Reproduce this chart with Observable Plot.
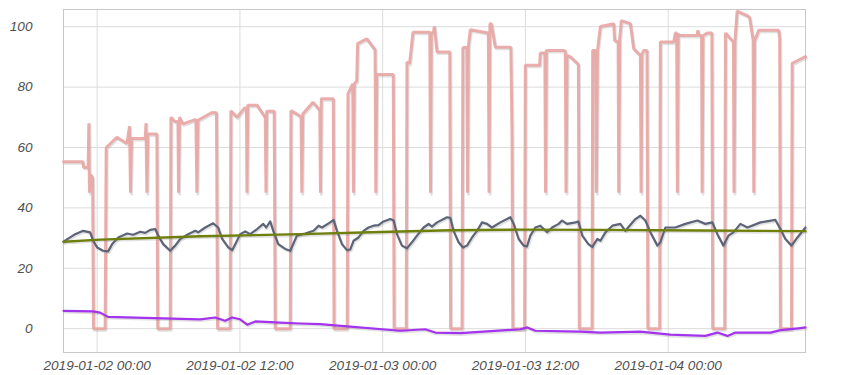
<!DOCTYPE html>
<html><head><meta charset="utf-8">
<script src="https://cdn.jsdelivr.net/npm/d3@7"></script>
<script src="https://cdn.jsdelivr.net/npm/@observablehq/plot@0.6"></script>
<style>html,body{margin:0;padding:0;background:#fff}</style>
</head><body><div id="chart"></div>
<script>
// time in hours since 2019-01-02 00:00 (UTC)
const baseTime = "2019-01-02 00:00";
const xTickLabels = ["2019-01-02 00:00","2019-01-02 12:00","2019-01-03 00:00","2019-01-03 12:00","2019-01-04 00:00"];
const yTicks = [0, 20, 40, 60, 80, 100];
const xRangeHours = [-2.83, 59.54];
const yRange = [-7.9, 105.7];

const pinkHours = [-2.83,-1.20,-1.14,-0.76,-0.70,-0.65,-0.55,-0.38,-0.31,0.67,
  0.76,1.66,2.50,2.72,2.80,2.89,4.04,4.10,4.18,4.26,
  5.02,5.09,6.14,6.20,6.50,6.79,6.84,6.92,7.21,8.30,
  8.38,8.47,9.65,10.03,10.12,11.18,11.24,11.75,12.39,12.55,
  12.59,12.66,13.43,14.13,14.19,14.25,14.88,14.97,16.23,16.29,
  16.99,17.14,17.20,17.28,18.14,18.61,18.71,18.77,18.84,19.85,
  19.91,21.02,21.08,21.48,21.54,21.61,21.82,21.89,22.68,23.29,
  23.36,23.42,23.50,24.89,24.96,25.98,26.04,26.26,26.55,27.96,
  28.02,28.09,28.26,28.34,28.57,29.64,29.71,30.67,30.74,31.07,
  31.13,31.20,31.37,32.88,32.94,33.01,33.13,33.47,34.77,34.87,
  34.94,35.93,35.99,37.19,37.25,37.63,37.69,37.76,39.21,39.35,
  39.41,39.50,39.78,40.45,40.53,41.60,41.65,41.90,41.96,42.05,
  42.30,43.42,43.50,43.79,43.84,43.92,44.06,44.82,45.10,45.66,
  45.72,45.79,45.94,46.22,46.29,47.28,47.34,48.46,48.60,48.71,
  48.77,48.84,49.02,50.43,50.48,50.58,50.80,50.85,50.92,51.27,
  51.67,51.74,52.75,52.81,53.48,53.53,53.61,53.79,54.63,54.85,
  55.14,55.19,55.26,55.61,57.29,57.37,57.43,58.36,58.42,59.54];
const pinkValues = [55.3,55.3,53.4,53.4,68,45,51,50,0,0,
  60,63.4,61.3,67,45,63,63,68,45,64.5,
  64.5,0,0,70,68.7,68.5,45,70,67.8,69.3,
  45,69,71.6,71.5,0,0,72.2,70,73.1,73,
  45,74,74,70,45,72,72,0,0,72.2,
  70.6,70,45,71.1,75,72.8,72.5,45,76.1,76.1,
  0,0,77.8,81.1,45,81,82,94.4,96,92.7,
  92.5,45,84.2,84.2,0,0,88.3,87.8,98.2,98.2,
  45,98,98,100.1,91.6,91.6,0,0,93,93.2,
  45,93.5,99,97.9,45,101,101,93.2,93.2,65,
  0,0,87.2,87.2,91.3,91.3,45,92.1,92.1,92,
  45,90.5,90,87.5,0,0,92.1,92.1,45,92,
  100.1,101,95.4,95,45,96,102,101,92.7,90.5,
  45,91,92.1,92.1,0,0,94.9,94.9,97.9,97.9,
  45,97.5,97.1,97.1,98.8,97.1,97.1,45,97,97.9,
  97.9,0,0,97.9,94.9,45,95,105.2,103.7,103,
  95.4,45,95.5,98.8,98.8,96,0,0,87.9,90.1];

const slateHours = [-2.83,-1.85,-1.18,-0.59,-0.34,0,0.50,0.92,1.26,1.77,
  2.52,3.03,3.62,4.04,4.46,4.88,5.13,5.55,6.14,6.56,
  6.98,7.65,8.24,8.49,9.08,9.75,10.17,10.51,11.02,11.35,
  11.69,12.02,12.45,12.87,13.45,13.96,14.21,14.55,14.80,15.22,
  15.81,16.23,16.79,17.49,18.19,18.61,18.90,19.59,19.87,20.16,
  20.58,21.00,21.27,21.55,21.97,22.39,22.81,23.23,23.65,24.07,
  24.64,24.92,25.20,25.62,26.04,26.46,26.88,27.44,27.86,28.14,
  28.57,29.41,29.68,29.96,30.38,30.75,31.09,31.51,31.93,32.35,
  32.77,33.19,33.89,34.73,35.01,35.43,35.85,36.13,36.41,36.83,
  37.25,37.82,38.24,38.79,39.08,39.50,40.20,40.45,40.78,41.29,
  41.62,42.05,42.30,42.72,43.31,43.98,44.40,45.24,45.66,46.08,
  46.50,47.09,47.34,47.76,48.60,49.44,50.45,51.12,51.71,52.13,
  52.64,53.06,53.48,54.07,54.66,55.75,57.01,57.43,57.85,58.36,
  58.86,59.54];
const slateValues = [28.8,31.3,32.4,31.9,29.1,26.9,25.8,25.6,28.0,30.2,
  31.5,31.1,32.1,31.7,32.7,33.0,30.8,28.0,25.8,27.5,
  29.7,31.3,32.4,31.9,33.5,34.9,33.5,29.7,26.9,26.0,
  28.6,31.3,32.2,31.3,33.0,34.7,33.5,35.5,32.4,28.0,
  26.4,25.8,30.8,31.5,32.4,34.1,33.5,35.2,36.0,32.4,
  28.0,26.0,26.2,29.1,30.2,32.4,33.5,34.1,34.3,35.5,
  36.3,35.8,31.3,27.5,26.6,28.6,30.8,33.5,34.7,33.8,
  35.2,36.9,36.7,32.4,28.6,26.9,27.5,30.2,32.4,35.2,
  34.7,33.5,35.2,36.9,34.7,29.7,27.5,27.2,30.8,33.5,
  34.1,31.9,33.5,34.7,35.8,34.7,35.2,35.5,30.8,28.0,
  27.1,29.7,29.1,31.9,34.1,34.7,32.4,36.3,37.4,35.8,
  31.9,27.5,28.6,33.5,33.5,34.7,35.8,34.7,35.2,31.3,
  27.5,30.8,31.9,34.7,33.5,35.2,36.0,33.0,29.7,27.5,
  30.2,33.5];

const oliveHours = [-2.83,0.25,8.66,17.07,23.80,29.68,35.57,42.30,50.71,59.54];
const oliveValues = [28.8,29.5,30.6,31.3,32.0,32.6,32.8,32.7,32.5,32.3];

const purpleHours = [-2.83,-0.34,0.25,0.92,8.66,9.92,10.76,11.35,12.02,12.61,
  13.29,15.39,17.07,18.75,21.27,25.48,27.58,28.42,30.52,35.57,
  36.16,36.83,40.62,42.30,45.66,48.18,51.12,52.13,52.98,53.65,
  56.59,57.43,59.12,59.54];
const purpleValues = [5.9,5.7,5.3,3.9,3.1,3.7,2.6,3.7,3.1,1.3,
  2.4,2.0,1.7,1.5,0.7,-0.7,-0.2,-1.3,-1.5,-0.2,
  0.4,-0.7,-1.0,-1.3,-1.0,-2.0,-2.4,-1.3,-2.4,-1.3,
  -1.3,-0.5,0.2,0.4];

const parseT = d3.utcParse("%Y-%m-%d %H:%M");
const base = parseT(baseTime).getTime();
const toDate = h => new Date(base + h * 3600e3);
const build = (hs, vs) => hs.map((h, i) => ({t: toDate(h), v: vs[i]}));
const pink = build(pinkHours, pinkValues);
const slate = build(slateHours, slateValues);
const olive = build(oliveHours, oliveValues);
const purple = build(purpleHours, purpleValues);
const xTicks = xTickLabels.map(parseT);
const fmt = d3.utcFormat("%Y-%m-%d %H:%M");

const shadow = (data, w) => Plot.line(data, {x: "t", y: "v", stroke: "#777", strokeOpacity: 0.22, strokeWidth: w, dx: 1, dy: 1.5});

const chart = Plot.plot({
  width: 850, height: 375,
  marginLeft: 63, marginRight: 45, marginTop: 9, marginBottom: 23,
  style: {fontFamily: "'Liberation Sans', Arial, sans-serif", fontSize: "13.6px", fontStyle: "italic", background: "#fff", color: "#505050"},
  x: {type: "utc", domain: xRangeHours.map(toDate), label: null},
  y: {domain: yRange, label: null},
  marks: [
    Plot.gridY(yTicks, {stroke: "#dcdcdc", strokeOpacity: 1}),
    Plot.gridX(xTicks, {stroke: "#dcdcdc", strokeOpacity: 1}),
    Plot.frame({stroke: "#c8c8c8"}),
    Plot.axisY(yTicks, {tickSize: 0, tickPadding: 31, fill: "#505050"}),
    Plot.axisX(xTicks, {tickSize: 0, tickPadding: 8, tickFormat: fmt, fill: "#505050"}),
    shadow(pink, 3),
    Plot.line(pink, {x: "t", y: "v", stroke: "#e8a6a4", strokeWidth: 3, strokeOpacity: 0.9, strokeLinejoin: "miter"}),
    shadow(slate, 2.5),
    Plot.line(slate, {x: "t", y: "v", stroke: "#5d6478", strokeWidth: 2.2}),
    shadow(olive, 2.5),
    Plot.line(olive, {x: "t", y: "v", stroke: "#6f7f0c", strokeWidth: 2.4}),
    shadow(purple, 2.5),
    Plot.line(purple, {x: "t", y: "v", stroke: "#a433ee", strokeWidth: 2.2})
  ]
});
document.getElementById("chart").appendChild(chart);
</script>
</body></html>
